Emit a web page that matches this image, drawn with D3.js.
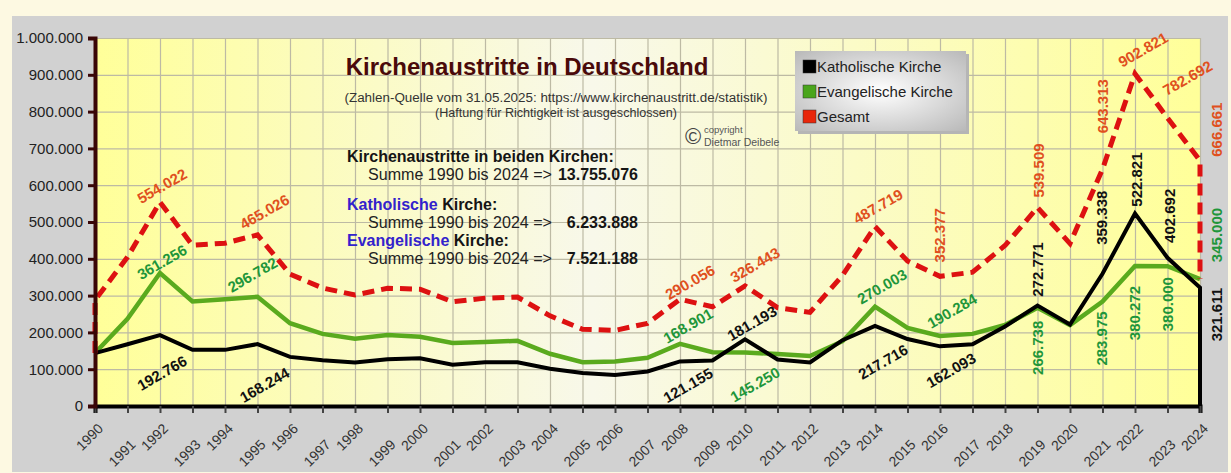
<!DOCTYPE html>
<html>
<head>
<meta charset="utf-8">
<script src="https://cdn.jsdelivr.net/npm/d3@7"></script>
<style>
  body { margin: 0; background: #fdf9e2; }
  svg { display: block; font-family: "Liberation Sans", Arial, sans-serif; }
</style>
</head>
<body>
<div class="chart"></div>
<script>
//////////////// DATA ////////////////

var years = [1990, 1991, 1992, 1993, 1994, 1995, 1996, 1997, 1998, 1999,
  2000, 2001, 2002, 2003, 2004, 2005, 2006, 2007, 2008, 2009,
  2010, 2011, 2012, 2013, 2014, 2015, 2016, 2017, 2018, 2019,
  2020, 2021, 2022, 2023, 2024];

var katholisch = [143530, 167656, 192766, 152631, 152536, 168244, 133504, 124628, 118520, 127000,
  129496, 112092, 119105, 119000, 101252, 89565, 84389, 93667, 121155, 123585,
  181193, 126488, 118335, 178805, 217716, 181925, 162093, 167504, 216078, 272771,
  221390, 359338, 522821, 402692, 321611];

var evangelisch = [144143, 237000, 361256, 284000, 290000, 296782, 225000, 196000, 183000, 193000,
  188000, 171000, 174000, 177000, 142000, 119000, 121000, 131000, 168901, 146000,
  145250, 141000, 136000, 176000, 270003, 212000, 190284, 196000, 220000, 266738,
  220000, 283975, 380272, 380000, 345000];

var gesamt = [287673, 404656, 554022, 436631, 442536, 465026, 358504, 320628, 301520, 320000,
  317496, 283092, 293105, 296000, 245000, 208565, 205389, 224667, 290056, 269585,
  326443, 267488, 254335, 354805, 487719, 393925, 352377, 363504, 436078, 539509,
  441390, 643313, 902821, 782692, 666661];

var yTicks = [0, 100000, 200000, 300000, 400000, 500000, 600000, 700000, 800000, 900000, 1000000];

var seriesNames = ["Katholische Kirche", "Evangelische Kirche", "Gesamt"];

var summeBeide = "13.755.076";
var summeKath = "6.233.888";
var summeEvang = "7.521.188";

//////////////// LABEL PLACEMENT ////////////////
// which years get a value label, and where it sits relative to its point
var kathLabels = [
  {year: 1992, rot: -30, dx: 2, dy: 38}, {year: 1995, rot: -30, dx: 7, dy: 41},
  {year: 2008, rot: -30, dx: 8, dy: 24}, {year: 2010, rot: -30, dx: 7, dy: -16},
  {year: 2014, rot: -30, dx: 8, dy: 36}, {year: 2016, rot: -30, dx: 11, dy: 24},
  {year: 2019, rot: -90, dx: 0, dy: -36}, {year: 2021, rot: -90, dx: -1, dy: -56},
  {year: 2022, rot: -90, dx: 2, dy: -34}, {year: 2023, rot: -90, dx: 2, dy: -42},
  {year: 2024, rot: -90, dx: 17, dy: 27}
];
var evangLabels = [
  {year: 1992, rot: -30, dx: 2, dy: -11}, {year: 1995, rot: -30, dx: -5, dy: -22},
  {year: 2008, rot: -30, dx: 8, dy: -18}, {year: 2010, rot: -30, dx: 10, dy: 32},
  {year: 2014, rot: -30, dx: 7, dy: -20}, {year: 2016, rot: -30, dx: 12, dy: -25},
  {year: 2019, rot: -90, dx: 0, dy: 40}, {year: 2021, rot: -90, dx: -1, dy: 37},
  {year: 2022, rot: -90, dx: 0, dy: 47}, {year: 2023, rot: -90, dx: 0, dy: 38},
  {year: 2024, rot: -90, dx: 17, dy: -44}
];
var gesamtLabels = [
  {year: 1992, rot: -30, dx: 2, dy: -16}, {year: 1995, rot: -30, dx: 7, dy: -23},
  {year: 2008, rot: -30, dx: 10, dy: -17}, {year: 2010, rot: -30, dx: 10, dy: -21},
  {year: 2014, rot: -30, dx: 3, dy: -20}, {year: 2016, rot: -90, dx: 0, dy: -41},
  {year: 2019, rot: -90, dx: 1, dy: -37}, {year: 2021, rot: -90, dx: 0, dy: -63},
  {year: 2022, rot: -30, dx: 8, dy: -24}, {year: 2023, rot: -30, dx: 20, dy: -40},
  {year: 2024, rot: -90, dx: 17, dy: -31}
];

//////////////// CHART AREA ////////////////

var svgWidth = 1231;
var svgHeight = 473;

var margin = {top: 38, right: 31, bottom: 67, left: 95};
var width = svgWidth - margin.left - margin.right;
var height = svgHeight - margin.top - margin.bottom;

var svg = d3.select(".chart")
  .append("svg")
  .attr("width", svgWidth)
  .attr("height", svgHeight);

var defs = svg.append("defs");

var plotGrad = defs.append("linearGradient").attr("id", "plotGrad");
plotGrad.append("stop").attr("offset", "0%").attr("stop-color", "#ffff99");
plotGrad.append("stop").attr("offset", "45%").attr("stop-color", "#f8f8ea");
plotGrad.append("stop").attr("offset", "100%").attr("stop-color", "#ffff99");

var legendGrad = defs.append("radialGradient").attr("id", "legendGrad")
  .attr("cx", "50%").attr("cy", "50%").attr("r", "70%");
legendGrad.append("stop").attr("offset", "0%").attr("stop-color", "#ffffff");
legendGrad.append("stop").attr("offset", "100%").attr("stop-color", "#b9b9b9");

// gray panel
svg.append("rect")
  .attr("x", 12).attr("y", 16)
  .attr("width", 1216).attr("height", 456)
  .attr("fill", "#d1d1d1");

var chartGroup = svg.append("g")
  .attr("transform", `translate(${margin.left}, ${margin.top})`);

chartGroup.append("rect")
  .attr("width", width).attr("height", height)
  .attr("fill", "url(#plotGrad)");

//////////////// SCALES + GRID ////////////////

var xScale = d3.scaleLinear().domain([1990, 2024]).range([0, width]);
var yScale = d3.scaleLinear().domain([0, 1000000]).range([height, 0]);

var de = d3.formatLocale({decimal: ",", thousands: ".", grouping: [3], currency: ["", "€"]});
var fmt = de.format(",");

chartGroup.append("g")
  .attr("class", "grid")
  .call(d3.axisBottom(xScale).tickValues(years).tickSize(height).tickFormat(""))
  .call(g => g.select(".domain").remove())
  .call(g => g.selectAll("line").attr("stroke", "#bdbaa4").attr("stroke-width", 1.2));

chartGroup.append("g")
  .attr("class", "grid")
  .call(d3.axisLeft(yScale).tickValues(yTicks).tickSize(-width).tickFormat(""))
  .call(g => g.select(".domain").remove())
  .call(g => g.selectAll("line").attr("stroke", "#bdbaa4").attr("stroke-width", 1.2));

//////////////// TEXT BLOCK ////////////////

chartGroup.append("text")
  .attr("x", 527 - margin.left).attr("y", 75 - margin.top)
  .attr("text-anchor", "middle")
  .style("font-size", "24px").style("font-weight", "bold")
  .attr("fill", "#4a0a0a")
  .text("Kirchenaustritte in Deutschland");

chartGroup.append("text")
  .attr("x", 556 - margin.left).attr("y", 102 - margin.top)
  .attr("text-anchor", "middle")
  .attr("textLength", 423).attr("lengthAdjust", "spacingAndGlyphs")
  .style("font-size", "12.5px").attr("fill", "#333")
  .text("(Zahlen-Quelle vom 31.05.2025: https://www.kirchenaustritt.de/statistik)");

chartGroup.append("text")
  .attr("x", 556 - margin.left).attr("y", 117 - margin.top)
  .attr("text-anchor", "middle")
  .attr("textLength", 242).attr("lengthAdjust", "spacingAndGlyphs")
  .style("font-size", "12px").attr("fill", "#333")
  .text("(Haftung für Richtigkeit ist ausgeschlossen)");

chartGroup.append("text")
  .attr("x", 693 - margin.left).attr("y", 144 - margin.top)
  .attr("text-anchor", "middle")
  .style("font-size", "22px").attr("fill", "#444")
  .text("©");
chartGroup.append("text")
  .attr("x", 704 - margin.left).attr("y", 133 - margin.top)
  .style("font-size", "9.5px").attr("fill", "#555")
  .text("copyright");
chartGroup.append("text")
  .attr("x", 704 - margin.left).attr("y", 146 - margin.top)
  .style("font-size", "10.5px").attr("fill", "#555")
  .text("Dietmar Deibele");

var sums = [
  {head: ["", "Kirchenaustritte in beiden Kirchen:"], value: summeBeide},
  {head: ["Katholische", " Kirche:"], value: summeKath},
  {head: ["Evangelische", " Kirche:"], value: summeEvang}
];
var sumTop = [162, 210, 246];

sums.forEach((s, i) => {
  var h = chartGroup.append("text")
    .attr("x", 347 - margin.left).attr("y", sumTop[i] - margin.top)
    .style("font-size", "16px").style("font-weight", "bold");
  h.append("tspan").attr("fill", "#3322cc").text(s.head[0]);
  h.append("tspan").attr("fill", "#151515").text(s.head[1]);

  chartGroup.append("text")
    .attr("x", 368 - margin.left).attr("y", sumTop[i] + 18 - margin.top)
    .attr("textLength", 184).attr("lengthAdjust", "spacingAndGlyphs")
    .style("font-size", "16px").attr("fill", "#222")
    .text("Summe 1990 bis 2024 =>");
  chartGroup.append("text")
    .attr("x", 638 - margin.left).attr("y", sumTop[i] + 18 - margin.top)
    .attr("text-anchor", "end")
    .style("font-size", "16px").style("font-weight", "bold").attr("fill", "#151515")
    .text(s.value);
});

//////////////// LEGEND ////////////////

var legendColors = ["#000000", "#4aa51c", "#e8260a"];
var legend = svg.append("g").attr("transform", "translate(795, 51)");
legend.append("rect").attr("x", 3).attr("y", 3).attr("width", 171).attr("height", 80).attr("fill", "#b5b5b5");
legend.append("rect").attr("width", 171).attr("height", 80).attr("fill", "url(#legendGrad)");
seriesNames.forEach((name, i) => {
  legend.append("rect")
    .attr("x", 8).attr("y", 9 + i * 25)
    .attr("width", 13).attr("height", 13)
    .attr("fill", legendColors[i]).attr("stroke", "#333").attr("stroke-width", 0.5);
  legend.append("text")
    .attr("x", 22).attr("y", 21 + i * 25)
    .style("font-size", "15px").attr("fill", "#222")
    .text(name);
});

//////////////// LINES ////////////////

var lineGen = d3.line()
  .x(d => xScale(d[0]))
  .y(d => yScale(d[1]));

var evangPts = years.map((y, i) => [y, evangelisch[i]]);
var kathPts = years.map((y, i) => [y, katholisch[i]]);
kathPts.push([years[years.length - 1], 0]);
var gesamtPts = years.map((y, i) => [y, gesamt[i]]);
gesamtPts.unshift([years[0], evangelisch[0]]);
gesamtPts.push([years[years.length - 1], evangelisch[evangelisch.length - 1]]);

chartGroup.append("path")
  .attr("d", lineGen(evangPts))
  .attr("fill", "none").attr("stroke", "#5aaa1e").attr("stroke-width", 4.5)
  .attr("stroke-linejoin", "miter");

chartGroup.append("path")
  .attr("d", lineGen(kathPts))
  .attr("fill", "none").attr("stroke", "#000").attr("stroke-width", 4)
  .attr("stroke-linejoin", "miter");

chartGroup.append("path")
  .attr("d", lineGen(gesamtPts))
  .attr("fill", "none").attr("stroke", "#dd1111").attr("stroke-width", 5)
  .attr("stroke-dasharray", "12,7");

//////////////// AXES ////////////////

chartGroup.append("g")
  .attr("transform", `translate(0, ${height})`)
  .call(d3.axisBottom(xScale).tickValues(years).tickSize(7).tickFormat(d3.format("d")))
  .call(g => g.select(".domain").attr("stroke", "#000").attr("stroke-width", 4))
  .call(g => g.selectAll(".tick line").attr("stroke", "#444").attr("stroke-width", 2))
  .call(g => g.selectAll(".tick text")
    .attr("y", 0).attr("dy", "0.35em")
    .attr("text-anchor", "end")
    .attr("transform", (d, i) => `translate(5, ${i % 2 ? 36 : 20}) rotate(-45)`)
    .style("font-size", "14px").attr("fill", "#333"));

chartGroup.append("g")
  .call(d3.axisLeft(yScale).tickValues(yTicks).tickSize(7).tickPadding(5).tickFormat(d => fmt(d)))
  .call(g => g.select(".domain").attr("stroke", "#3a0606").attr("stroke-width", 4))
  .call(g => g.selectAll(".tick line").attr("stroke", "#3a0606").attr("stroke-width", 3))
  .call(g => g.selectAll(".tick text").style("font-size", "15px").attr("fill", "#222"));

//////////////// VALUE LABELS ////////////////

function addLabels(list, values, color) {
  chartGroup.selectAll(null)
    .data(list)
    .enter()
    .append("text")
    .attr("transform", d => {
      var i = years.indexOf(d.year);
      return `translate(${xScale(d.year) + d.dx}, ${yScale(values[i]) + d.dy}) rotate(${d.rot})`;
    })
    .attr("text-anchor", "middle")
    .attr("dy", "0.35em")
    .style("font-size", "15px").style("font-weight", "bold")
    .attr("fill", color)
    .text(d => fmt(values[years.indexOf(d.year)]));
}

addLabels(kathLabels, katholisch, "#111111");
addLabels(evangLabels, evangelisch, "#1f963a");
addLabels(gesamtLabels, gesamt, "#e0501e");
</script>
</body>
</html>
